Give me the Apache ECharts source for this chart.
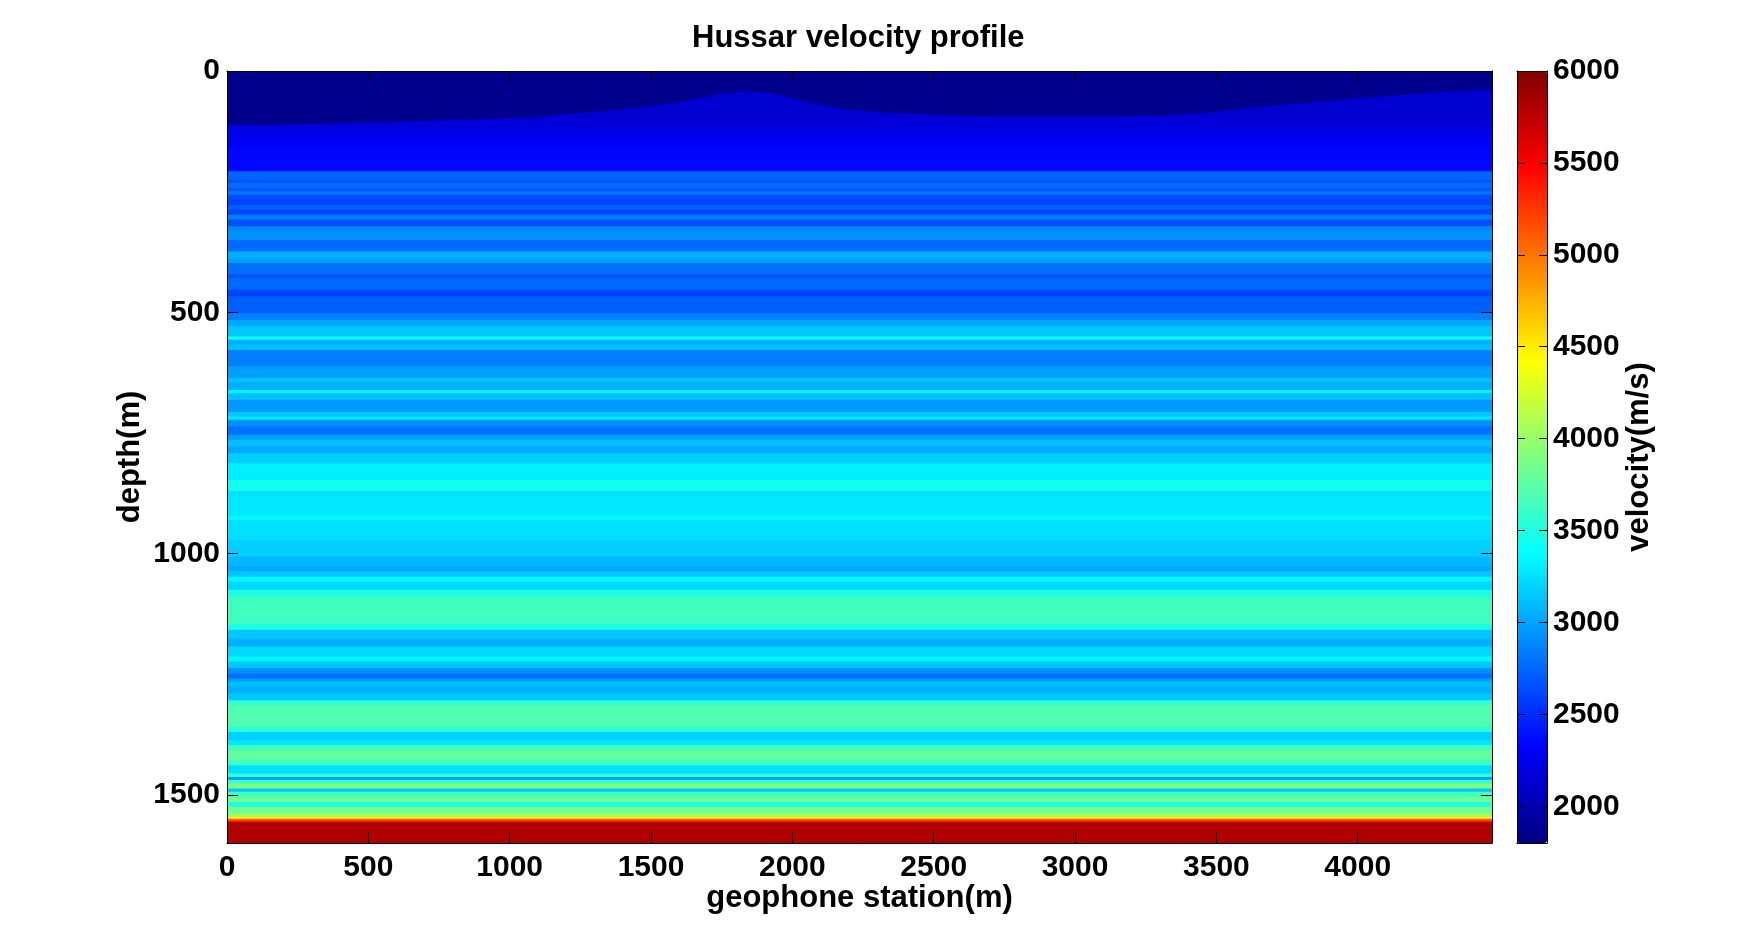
<!DOCTYPE html>
<html>
<head>
<meta charset="utf-8">
<title>Hussar velocity profile</title>
<script src="https://cdn.jsdelivr.net/npm/echarts@6/dist/echarts.min.js"></script>
<style>
  html, body { margin: 0; padding: 0; background: #ffffff; }
  #chart { width: 1740px; height: 946px; }
</style>
</head>
<body>
<div id="chart"></div>
<script>
// Base of the low-velocity weathered layer, picked along the line
const weatheringStations = [0, 145, 285, 430, 575, 715, 860, 1005, 1150, 1290, 1435, 1580, 1665, 1750, 1835, 1920, 2010, 2095, 2180, 2295, 2440, 2580, 2725, 2870, 3010, 3155, 3300, 3445, 3585, 3730, 3875, 4015, 4160, 4305, 4475];
const weatheringBase = [111, 112, 110, 108, 106, 103, 101, 98, 92, 85, 77, 67, 58, 47, 42, 45, 58, 70, 78, 85, 89, 92, 94, 94, 94, 94, 92, 87, 79, 70, 63, 56, 49, 43, 38];
const weatheringVelocity = 1850;

// Flat-layered model: top of each layer (m) and its interval velocity (m/s)
const layerTops = [0, 100, 120, 140, 160, 208, 225, 232, 242, 249, 256, 267, 277, 287, 298, 308, 322, 332, 350, 367, 374, 388, 398, 422, 429, 453, 460, 467, 502, 516, 529, 550, 557, 567, 578, 612, 637, 644, 661, 668, 682, 706, 716, 723, 737, 754, 765, 778, 792, 813, 848, 870, 878, 923, 930, 972, 1006, 1027, 1037, 1048, 1058, 1075, 1089, 1145, 1158, 1176, 1193, 1214, 1224, 1238, 1249, 1259, 1266, 1276, 1290, 1304, 1314, 1359, 1370, 1387, 1397, 1408, 1428, 1439, 1456, 1463, 1469, 1477, 1487, 1494, 1505, 1515, 1525, 1539, 1546, 1549, 1552, 1556];
const layerVelocities = [2130, 2170, 2230, 2300, 2350, 2735, 2655, 2787, 2687, 2820, 2650, 2588, 2720, 2621, 2852, 2655, 2885, 2918, 2755, 2787, 3050, 2984, 2787, 2655, 2755, 2630, 2588, 2720, 2852, 3017, 3149, 3420, 3050, 3116, 2852, 2984, 3149, 3050, 3330, 3116, 2955, 3149, 3280, 2918, 2787, 2984, 3116, 3017, 3182, 3313, 3440, 3250, 3280, 3360, 3248, 3182, 3083, 3017, 3149, 3340, 3215, 3490, 3640, 3500, 3149, 3050, 3215, 3340, 3149, 2918, 2787, 2984, 3116, 3050, 3149, 3570, 3705, 3540, 3182, 3280, 3640, 3770, 3640, 3248, 3570, 2950, 3620, 3900, 3150, 3640, 3835, 3500, 3835, 4030, 4450, 4950, 5250, 5800];
const modelBottom = 1600;
const stationStart = 0;
const stationEnd = 4475;

// Axis ticks
const tickStep = 500;
const stationTicks = [0, 500, 1000, 1500, 2000, 2500, 3000, 3500, 4000];
const depthTicks = [0, 500, 1000, 1500];
const velocityTicks = [2000, 2500, 3000, 3500, 4000, 4500, 5000, 5500, 6000];
const velocityMin = 1800;
const velocityMax = 6000;

// MATLAB-style jet colormap stops (evenly spaced)
const jet = ['#000080', '#0000ff', '#0080ff', '#00ffff', '#80ff80', '#ffff00', '#ff8000', '#ff0000', '#800000'];

const FONT = "'Liberation Sans', Arial, Helvetica, sans-serif";
const plain = (v) => String(v);
const labelStyle = { fontFamily: FONT, fontWeight: 'bold', fontSize: 30, color: '#000', formatter: plain };
const nameStyle = { fontFamily: FONT, fontWeight: 'bold', fontSize: 31, color: '#000' };
const lineStyle = { color: '#000', width: 1 };
const boxLine = { show: true, onZero: false, lineStyle };
const innerTick = (len) => ({ show: true, inside: true, length: len, lineStyle });

// One rectangle per layer, spanning the whole line
const layerData = layerTops.map((top, i) => {
  const bottom = i + 1 < layerTops.length ? layerTops[i + 1] : modelBottom;
  return [stationStart, stationEnd, top, bottom, layerVelocities[i]];
});

const chart = echarts.init(document.getElementById('chart'), null, { renderer: 'canvas' });

const plotGrid = { left: 227, top: 71, width: 1265, height: 772 };
const barGrid = { left: 1517, top: 71, width: 30, height: 772 };

const stationAxis = (position, withLabels) => ({
  gridIndex: 0, type: 'value', position, min: stationStart, max: stationEnd, interval: tickStep, z: 10,
  axisLine: boxLine,
  axisTick: innerTick(11),
  axisLabel: withLabels ? Object.assign({ margin: 10, customValues: stationTicks }, labelStyle) : { show: false },
  splitLine: { show: false }
});
const depthAxis = (position, withLabels) => ({
  gridIndex: 0, type: 'value', position, inverse: true, min: 0, max: modelBottom, interval: tickStep, z: 10,
  axisLine: boxLine,
  axisTick: innerTick(11),
  axisLabel: withLabels ? Object.assign({ margin: 7, customValues: depthTicks }, labelStyle) : { show: false },
  splitLine: { show: false }
});
const velocityAxis = (position, withLabels) => ({
  gridIndex: 1, type: 'value', position, min: velocityMin, max: velocityMax,
  minInterval: tickStep, maxInterval: tickStep, z: 10,
  axisLine: boxLine,
  axisTick: innerTick(8),
  axisLabel: withLabels ? Object.assign({ margin: 6, customValues: velocityTicks }, labelStyle) : { show: false },
  splitLine: { show: false }
});
const frameAxis = (position) => ({
  gridIndex: 1, type: 'value', position, min: 0, max: 1, z: 10,
  axisLine: boxLine,
  axisTick: { show: false }, axisLabel: { show: false }, splitLine: { show: false }
});

chart.setOption({
  backgroundColor: '#ffffff',
  animation: false,
  title: {
    text: 'Hussar velocity profile',
    left: 692,
    top: 23,
    padding: 0,
    textStyle: { fontFamily: FONT, fontWeight: 'bold', fontSize: 31, color: '#000' }
  },
  grid: [
    Object.assign({ show: false }, plotGrid),
    Object.assign({ show: false }, barGrid)
  ],
  xAxis: [
    Object.assign(stationAxis('bottom', true), {
      name: 'geophone station(m)', nameLocation: 'middle', nameGap: 40, nameMoveOverlap: false, nameTextStyle: nameStyle
    }),
    stationAxis('top', false),
    frameAxis('bottom'),
    frameAxis('top')
  ],
  yAxis: [
    Object.assign(depthAxis('left', true), {
      name: 'depth(m)', nameLocation: 'middle', nameRotate: 90, nameGap: 81, nameMoveOverlap: false, nameTextStyle: nameStyle
    }),
    depthAxis('right', false),
    Object.assign(velocityAxis('right', true), {
      name: 'velocity(m/s)', nameLocation: 'middle', nameRotate: 90, nameGap: 77, nameMoveOverlap: false, nameTextStyle: nameStyle
    }),
    velocityAxis('left', false)
  ],
  visualMap: {
    type: 'continuous',
    min: velocityMin,
    max: velocityMax,
    dimension: 4,
    seriesIndex: [0, 1],
    orient: 'vertical',
    left: barGrid.left,
    top: barGrid.top,
    itemWidth: barGrid.width,
    itemHeight: barGrid.height,
    padding: 0,
    calculable: false,
    hoverLink: false,
    text: null,
    inRange: { color: jet }
  },
  series: [
    {
      // flat layers
      type: 'custom',
      xAxisIndex: 0,
      yAxisIndex: 0,
      clip: true,
      encode: { x: [0, 1], y: [2, 3] },
      data: layerData,
      renderItem: function (params, api) {
        const p0 = api.coord([api.value(0), api.value(2)]);
        const p1 = api.coord([api.value(1), api.value(3)]);
        return {
          type: 'rect',
          shape: { x: p0[0], y: p0[1], width: p1[0] - p0[0], height: p1[1] - p0[1] + 1 },
          style: { fill: api.visual('color') }
        };
      }
    },
    {
      // weathered layer, thickness varying along the line
      type: 'custom',
      xAxisIndex: 0,
      yAxisIndex: 0,
      clip: true,
      encode: { x: [0, 1], y: [2, 3] },
      data: [[stationStart, stationEnd, 0, 0, weatheringVelocity]],
      renderItem: function (params, api) {
        const pts = [api.coord([stationStart, 0]), api.coord([stationEnd, 0])];
        for (let i = weatheringStations.length - 1; i >= 0; i--) {
          pts.push(api.coord([weatheringStations[i], weatheringBase[i]]));
        }
        return {
          type: 'polygon',
          shape: { points: pts },
          style: { fill: api.visual('color') }
        };
      }
    }
  ]
});
</script>
</body>
</html>
